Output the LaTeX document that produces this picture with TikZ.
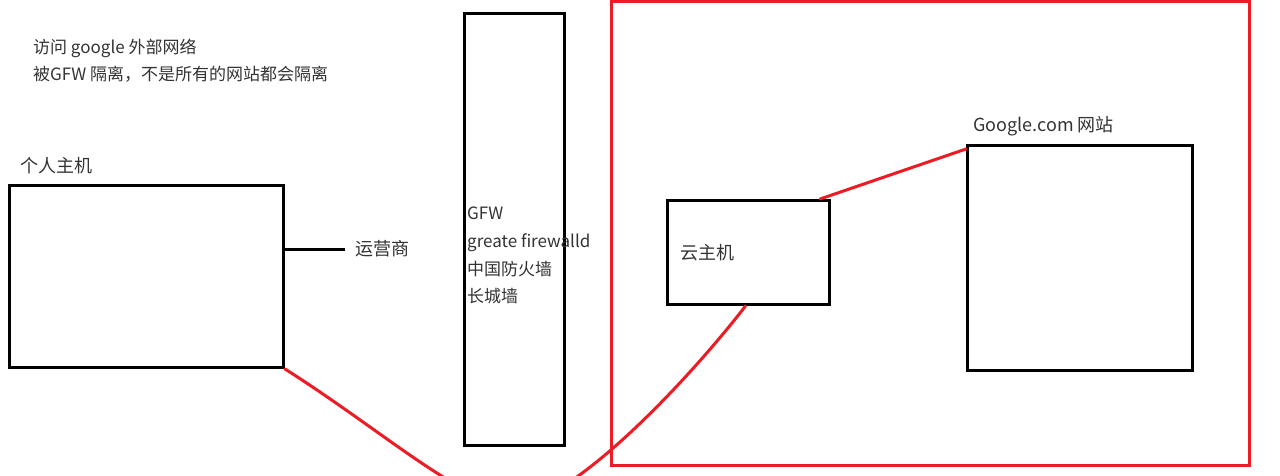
\documentclass[tikz,border=0pt]{standalone}
\usepackage{fontspec}
\setmainfont{Noto Sans CJK SC}
\usetikzlibrary{positioning}
\definecolor{wallRed}{RGB}{237,28,36}
\definecolor{textGray}{RGB}{51,51,51}
\tikzstyle{canvas} = [x = 1pt, y = -1pt]
\tikzstyle{boxStyle} = [draw=black, line width=3pt, inner sep=0pt]
\tikzstyle{noteText} = [text=textGray, font=\fontsize{18}{22}\selectfont, inner sep=0pt]
\tikzstyle{redLine} = [color=wallRed, line width=3pt, line cap=round]
\tikzstyle{blackLine} = [color=black, line width=3pt]
\newcommand{\hostBox}[5]{\node [boxStyle, minimum width=#4pt, minimum height=#5pt] (#1) at (#2,#3) {};}

\begin{document}
\begin{tikzpicture}[canvas]
      \useasboundingbox (0,0) rectangle (1280,475);
      \node [boxStyle, draw=wallRed, minimum width=638pt, minimum height=464pt] (abroad) at (930.5,233.5) {};
      \hostBox{host}{146.5}{276.5}{274}{182}
      \hostBox{gfw}{514.5}{229.5}{100}{432}
      \hostBox{cloud}{748.5}{252.5}{162}{104}
      \hostBox{google}{1080}{258}{225}{225}

      \node [noteText, font=\fontsize{17}{27}\selectfont, anchor=north west, align=left] (intro) at (33,39) {访问 google 外部网络\\被GFW 隔离，不是所有的网站都会隔离};
      \node [noteText, above right=10pt and 12pt of host.north west] (hostName) {个人主机};
      \node [noteText, above right=8pt and 7pt of google.north west] (googleName) {Google.com 网站};
      \node [noteText, right=14pt of cloud.west] (cloudName) {云主机};
      \node [noteText, font=\fontsize{17}{27.7}\selectfont, anchor=north west, align=left] (gfwNote) at (467,207) {GFW\\greate firewalld\\中国防火墙\\长城墙};

      \coordinate (ispEnd) at (345,249);
      \node [noteText, right=10pt of ispEnd] (isp) {运营商};
      \draw [blackLine] (host.east |- ispEnd) -- (ispEnd);

      \draw [redLine] ([xshift=-11pt]cloud.north east) -- ([yshift=-5pt]google.north west);
      \coordinate (dip) at (514,505);
      \draw [redLine] (host.south east) .. controls +(98,62) and +(-50,0) .. (dip) .. controls +(55,0) and +(-62,80) .. ([xshift=-3pt]cloud.south);
    \end{tikzpicture}
\end{document}
